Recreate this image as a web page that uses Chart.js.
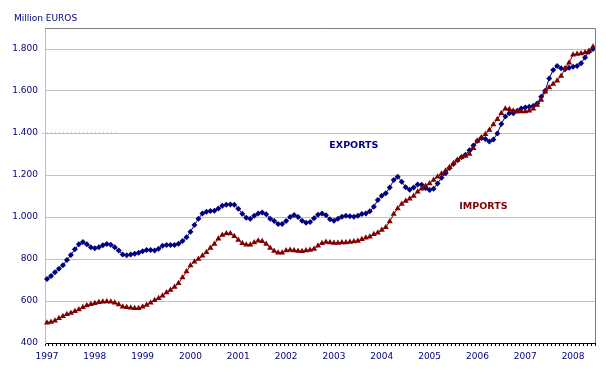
<!DOCTYPE html>
<html>

<head>
    <meta charset="utf-8">
    <script src="https://cdn.jsdelivr.net/npm/chart.js@4.4.0/dist/chart.umd.min.js"></script>
    <style>
        html, body {
            margin: 0;
            padding: 0;
            background: #fff;
        }
        #chart-container {
            width: 606px;
            height: 377px;
        }
    </style>
</head>

<body>
    <div id="chart-container">
        <canvas id="tradeChart" width="606" height="377"></canvas>
    </div>

    <script>
        // monthly series, Jan 1997 .. Jun 2008
        const years = [1997, 1998, 1999, 2000, 2001, 2002, 2003, 2004, 2005, 2006, 2007, 2008];
        const monthsInLastYear = 6;

        const exportsValues = [
            705, 719, 737, 754, 770, 795, 819, 846, 870, 881, 870, 856,
            851, 856, 865, 871, 868, 856, 840, 822, 818, 822, 825, 830,
            837, 843, 843, 840, 849, 863, 867, 867, 867, 873, 886, 903,
            930, 962, 992, 1017, 1025, 1029, 1030, 1041, 1054, 1058, 1060, 1058,
            1039, 1016, 997, 992, 1006, 1017, 1022, 1013, 992, 981, 967, 967,
            981, 1000, 1010, 1000, 982, 973, 976, 994, 1011, 1017, 1008, 989,
            982, 992, 1001, 1006, 1003, 1001, 1006, 1014, 1017, 1027, 1049, 1081,
            1101, 1113, 1140, 1176, 1192, 1168, 1142, 1130, 1141, 1155, 1154, 1138,
            1129, 1135, 1159, 1187, 1208, 1233, 1252, 1270, 1284, 1297, 1318, 1341,
            1363, 1376, 1371, 1360, 1369, 1398, 1443, 1478, 1494, 1494, 1506, 1517,
            1522, 1525, 1529, 1541, 1573, 1601, 1660, 1700, 1719, 1708, 1703, 1711,
            1716, 1719, 1732, 1760, 1787, 1800
        ];

        const importsValues = [
            497, 500, 506, 518, 527, 537, 543, 551, 560, 570, 578, 584,
            589, 594, 597, 598, 597, 592, 583, 573, 570, 568, 565, 565,
            573, 581, 592, 603, 613, 625, 640, 652, 667, 684, 712, 740,
            769, 787, 800, 815, 832, 852, 871, 897, 914, 922, 922, 908,
            890, 875, 868, 868, 878, 887, 884, 871, 852, 838, 830, 830,
            840, 843, 841, 838, 837, 840, 843, 848, 863, 875, 881, 878,
            876, 876, 878, 878, 881, 883, 886, 894, 901, 906, 918, 925,
            938, 951, 978, 1014, 1041, 1062, 1076, 1087, 1100, 1120, 1135, 1148,
            1160, 1176, 1192, 1206, 1220, 1237, 1256, 1271, 1284, 1290, 1300, 1327,
            1362, 1379, 1394, 1414, 1441, 1465, 1494, 1516, 1513, 1506, 1502, 1502,
            1502, 1506, 1516, 1533, 1557, 1597, 1617, 1633, 1649, 1671, 1708, 1735,
            1773, 1776, 1778, 1783, 1790, 1811
        ];

        const yTicks = [400, 600, 800, 1000, 1200, 1400, 1600, 1800];

        // series labels placed inside the plot: [category index, value]
        const exportsLabelAt = [77, 1340];
        const importsLabelAt = [109.5, 1048];

        const categories = [];
        years.forEach(function (y, i) {
            const n = i === years.length - 1 ? monthsInLastYear : 12;
            for (let m = 1; m <= n; m++) {
                categories.push(y + '-' + (m < 10 ? '0' + m : m));
            }
        });

        function euroFormat(v) {
            return String(v).replace(/\B(?=(\d{3})+(?!\d))/g, '.');
        }

        Chart.defaults.font.family = "'DejaVu Sans', Verdana, sans-serif";
        Chart.defaults.font.size = 9;
        Chart.defaults.color = '#000080';

        const NAVY = '#000080';
        const MAROON = '#800000';

        const ctx = document.getElementById('tradeChart').getContext('2d');

        const tradeChart = new Chart(ctx, {
            type: 'line',
            data: {
                labels: categories,
                datasets: [
                    {
                        label: 'EXPORTS',
                        data: exportsValues,
                        borderColor: NAVY,
                        backgroundColor: NAVY,
                        borderWidth: 1,
                        pointStyle: 'rectRot',
                        pointRadius: 3,
                        pointBorderWidth: 0,
                        pointBackgroundColor: NAVY,
                        tension: 0,
                        order: 1
                    },
                    {
                        label: 'IMPORTS',
                        data: importsValues,
                        borderColor: MAROON,
                        backgroundColor: MAROON,
                        borderWidth: 1,
                        pointStyle: 'triangle',
                        pointRadius: 3.5,
                        pointBorderWidth: 0,
                        pointBackgroundColor: MAROON,
                        tension: 0,
                        order: 0
                    }
                ]
            },
            options: {
                responsive: false,
                animation: false,
                layout: {
                    padding: { left: 0, top: 28, right: 11, bottom: 0 }
                },
                plugins: {
                    legend: { display: false },
                    tooltip: { enabled: false }
                },
                scales: {
                    x: {
                        type: 'category',
                        offset: true,
                        grid: {
                            offset: true,
                            drawOnChartArea: false,
                            drawTicks: true,
                            tickLength: 3,
                            color: '#000'
                        },
                        border: { color: '#000', width: 1 },
                        ticks: {
                            autoSkip: false,
                            maxRotation: 0,
                            padding: 5,
                            color: NAVY,
                            callback: function (value, index) {
                                return index % 12 === 0 ? categories[index].slice(0, 4) : '';
                            }
                        },
                        afterFit: function (scale) {
                            scale.height = 34;
                        }
                    },
                    y: {
                        min: 400,
                        max: 1900,
                        afterBuildTicks: function (scale) {
                            scale.ticks = yTicks.map(function (v) { return { value: v }; });
                        },
                        grid: {
                            color: '#c0c0c0',
                            drawTicks: false
                        },
                        border: { color: '#c0c0c0', width: 1 },
                        ticks: {
                            padding: 7,
                            color: NAVY,
                            callback: function (value) {
                                return euroFormat(value);
                            }
                        },
                        afterFit: function (scale) {
                            scale.width = 45;
                        }
                    }
                }
            },
            plugins: [{
                id: 'frameAndText',
                beforeDatasetsDraw: function (chart) {
                    // faint dotted stub above the 1.400 gridline, as in the original
                    const c = chart.ctx;
                    const area = chart.chartArea;
                    const y = Math.round(chart.scales.y.getPixelForValue(1400)) - 0.5;
                    c.save();
                    c.strokeStyle = '#c8c8c8';
                    c.lineWidth = 1;
                    c.setLineDash([1, 3]);
                    c.beginPath();
                    c.moveTo(area.left + 2, y);
                    c.lineTo(area.left + 74, y);
                    c.stroke();
                    c.setLineDash([]);
                    c.beginPath();
                    c.moveTo(area.left - 3, y + 1);
                    c.lineTo(area.left, y + 1);
                    c.stroke();
                    c.restore();
                },
                afterDraw: function (chart) {
                    const c = chart.ctx;
                    const area = chart.chartArea;
                    const xs = chart.scales.x;
                    const ys = chart.scales.y;

                    c.save();
                    // top and right frame
                    c.strokeStyle = '#808080';
                    c.lineWidth = 1;
                    c.beginPath();
                    c.moveTo(area.left, Math.round(area.top) + 0.5);
                    c.lineTo(Math.round(area.right) + 0.5, Math.round(area.top) + 0.5);
                    c.lineTo(Math.round(area.right) + 0.5, area.bottom);
                    c.stroke();

                    // unit caption
                    c.fillStyle = NAVY;
                    c.font = "9px 'DejaVu Sans', Verdana, sans-serif";
                    c.textAlign = 'left';
                    c.textBaseline = 'alphabetic';
                    c.fillText('Million EUROS', 14, 21);

                    // series names
                    c.font = "bold 9.5px 'DejaVu Sans', Verdana, sans-serif";
                    c.textAlign = 'center';
                    c.textBaseline = 'middle';
                    c.fillStyle = NAVY;
                    c.fillText('EXPORTS', xs.getPixelForValue(exportsLabelAt[0]), ys.getPixelForValue(exportsLabelAt[1]));
                    c.fillStyle = MAROON;
                    c.fillText('IMPORTS', xs.getPixelForValue(importsLabelAt[0]), ys.getPixelForValue(importsLabelAt[1]));
                    c.restore();
                }
            }]
        });
    </script>
</body>

</html>
